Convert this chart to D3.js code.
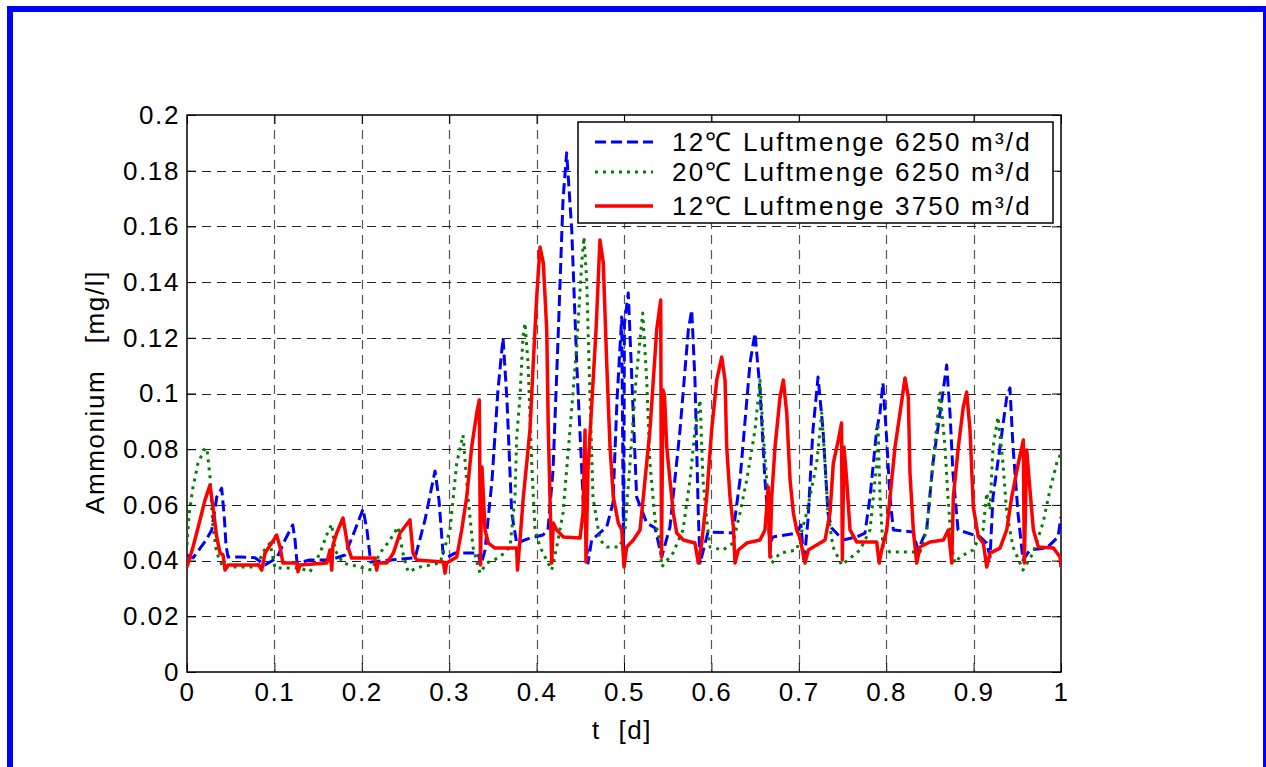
<!DOCTYPE html>
<html><head><meta charset="utf-8">
<script src="https://cdn.jsdelivr.net/npm/d3@7"></script>
<style>
html,body{margin:0;padding:0;background:#fff;}
svg text{font-family:"Liberation Sans",Arial,sans-serif;fill:#000;}
</style></head>
<body><svg id="c" width="1266" height="767"></svg>
<script>
const xTicks=[0,0.1,0.2,0.3,0.4,0.5,0.6,0.7,0.8,0.9,1];
const xTickLabels=["0","0.1","0.2","0.3","0.4","0.5","0.6","0.7","0.8","0.9","1"];
const yTicks=[0,0.02,0.04,0.06,0.08,0.1,0.12,0.14,0.16,0.18,0.2];
const yTickLabels=["0","0.02","0.04","0.06","0.08","0.1","0.12","0.14","0.16","0.18","0.2"];
const seriesNames=["12\u2103 Luftmenge 6250 m\u00b3/d","20\u2103 Luftmenge 6250 m\u00b3/d","12\u2103 Luftmenge 3750 m\u00b3/d"];
const xLabel="t  [d]";
const yLabel="Ammonium   [mg/l]";

// 12°C, 6250 m3/d  [t, NH4]
const blue=[[0,0.042],[0.007,0.041],[0.021,0.047],[0.0283,0.051],[0.034,0.0628],[0.0397,0.066],[0.0429,0.0546],[0.0446,0.0456],[0.0469,0.0413],[0.0606,0.0413],[0.0778,0.041],[0.0892,0.0384],[0.103,0.041],[0.1121,0.0474],[0.121,0.0528],[0.1236,0.0474],[0.1259,0.0391],[0.1407,0.0402],[0.1636,0.0402],[0.1808,0.042],[0.1922,0.051],[0.2014,0.0585],[0.2059,0.051],[0.2102,0.0395],[0.2323,0.0402],[0.2609,0.041],[0.2723,0.0546],[0.2838,0.0722],[0.2883,0.0618],[0.2929,0.0427],[0.2986,0.0413],[0.3066,0.0427],[0.333,0.0427],[0.3364,0.0384],[0.341,0.0438],[0.349,0.0689],[0.3558,0.1013],[0.3616,0.1199],[0.3661,0.0977],[0.3715,0.0571],[0.3772,0.0463],[0.3924,0.0481],[0.4073,0.0492],[0.413,0.051],[0.4188,0.0725],[0.4245,0.1192],[0.4302,0.1695],[0.4344,0.1864],[0.4402,0.1587],[0.4459,0.111],[0.4531,0.0628],[0.4588,0.0391],[0.463,0.0474],[0.4802,0.0521],[0.4874,0.0607],[0.492,0.0977],[0.4974,0.1275],[0.4995,0.0395],[0.5005,0.125],[0.5049,0.1361],[0.509,0.1048],[0.5145,0.0628],[0.526,0.0535],[0.5355,0.0517],[0.5431,0.0413],[0.5526,0.0521],[0.5641,0.0869],[0.5736,0.1228],[0.5775,0.13],[0.5812,0.1048],[0.585,0.0571],[0.587,0.0391],[0.5961,0.0503],[0.6247,0.0499],[0.6327,0.0689],[0.6442,0.111],[0.6499,0.1217],[0.6556,0.1013],[0.6613,0.0689],[0.667,0.0463],[0.6705,0.0485],[0.6976,0.0499],[0.7025,0.0528],[0.7059,0.0391],[0.7105,0.0546],[0.7162,0.0869],[0.722,0.1059],[0.7277,0.0869],[0.7334,0.0571],[0.7376,0.0517],[0.7506,0.0474],[0.7662,0.0485],[0.7757,0.0499],[0.7815,0.0628],[0.7891,0.0869],[0.7929,0.093],[0.7963,0.1038],[0.8006,0.0833],[0.8043,0.0628],[0.8082,0.051],[0.8307,0.0503],[0.8364,0.0438],[0.8463,0.051],[0.8535,0.075],[0.8616,0.093],[0.8692,0.1102],[0.873,0.093],[0.8764,0.0715],[0.8822,0.051],[0.9073,0.0485],[0.915,0.0463],[0.9188,0.0413],[0.9222,0.0628],[0.9302,0.0808],[0.9379,0.0987],[0.9416,0.102],[0.9451,0.0808],[0.9508,0.0571],[0.9565,0.0402],[0.9645,0.0438],[0.9836,0.0445],[0.9966,0.0485],[1.0,0.0557]];

// 20°C, 6250 m3/d
const green=[[0,0.0456],[0.0023,0.0564],[0.0069,0.0664],[0.0126,0.075],[0.0206,0.0804],[0.0229,0.0801],[0.0263,0.07],[0.0297,0.0521],[0.034,0.0427],[0.0412,0.0377],[0.0797,0.0377],[0.087,0.0431],[0.095,0.0463],[0.1007,0.0373],[0.1293,0.0373],[0.1407,0.036],[0.1522,0.0427],[0.1598,0.0492],[0.1656,0.0531],[0.1693,0.0438],[0.1785,0.0391],[0.1979,0.0377],[0.2113,0.0366],[0.2208,0.0427],[0.2323,0.0474],[0.2414,0.0521],[0.2471,0.0427],[0.2529,0.036],[0.2666,0.0377],[0.2895,0.0391],[0.3009,0.051],[0.3086,0.075],[0.3158,0.0851],[0.3215,0.0628],[0.3272,0.0449],[0.3352,0.0355],[0.3429,0.0391],[0.3581,0.0413],[0.3696,0.0449],[0.3753,0.0628],[0.3772,0.0844],[0.381,0.0987],[0.3844,0.1203],[0.3867,0.1253],[0.3902,0.111],[0.3944,0.075],[0.3982,0.051],[0.4039,0.0449],[0.4173,0.0366],[0.423,0.0449],[0.4302,0.0571],[0.4382,0.0869],[0.4459,0.1167],[0.4516,0.1469],[0.4542,0.1562],[0.4573,0.1408],[0.4611,0.0987],[0.4645,0.0628],[0.4725,0.0474],[0.4802,0.0449],[0.4954,0.0449],[0.5011,0.051],[0.5069,0.075],[0.5137,0.1048],[0.5214,0.1289],[0.526,0.1048],[0.5297,0.075],[0.5355,0.0546],[0.5412,0.0463],[0.5431,0.0377],[0.556,0.0427],[0.5675,0.051],[0.5755,0.0689],[0.5812,0.0869],[0.587,0.0977],[0.5904,0.0689],[0.5946,0.0546],[0.5984,0.0449],[0.6133,0.0438],[0.6247,0.0463],[0.6327,0.0571],[0.6404,0.0689],[0.6499,0.0869],[0.6556,0.1048],[0.659,0.0869],[0.6633,0.0689],[0.667,0.0449],[0.669,0.0391],[0.6785,0.0427],[0.6976,0.0438],[0.709,0.0571],[0.7205,0.075],[0.7262,0.093],[0.73,0.075],[0.7334,0.0571],[0.7391,0.0449],[0.7491,0.0384],[0.77,0.0438],[0.7815,0.051],[0.7891,0.075],[0.7906,0.0894],[0.7929,0.0628],[0.7963,0.0449],[0.8043,0.0431],[0.8387,0.0431],[0.8463,0.051],[0.8535,0.075],[0.8616,0.1002],[0.8673,0.0808],[0.8707,0.0628],[0.8749,0.0449],[0.8787,0.0391],[0.8844,0.0413],[0.8993,0.0438],[0.9108,0.051],[0.915,0.0643],[0.9188,0.0582],[0.9222,0.0808],[0.9279,0.0916],[0.9336,0.075],[0.9379,0.0571],[0.9451,0.0449],[0.9565,0.0366],[0.968,0.0427],[0.9794,0.0535],[0.9874,0.0654],[0.9951,0.075],[1.0,0.0786]];

// 12°C, 3750 m3/d
const red=[[0,0.0377],[0.0069,0.0449],[0.0149,0.0546],[0.0206,0.0618],[0.0263,0.0671],[0.0297,0.0592],[0.034,0.0485],[0.0378,0.0427],[0.0412,0.042],[0.0435,0.0366],[0.0469,0.0384],[0.0824,0.0384],[0.0855,0.0366],[0.0892,0.0427],[0.0969,0.0463],[0.1026,0.0492],[0.1064,0.0449],[0.1098,0.0391],[0.1255,0.0391],[0.127,0.036],[0.1293,0.0384],[0.1598,0.0391],[0.1636,0.0438],[0.1656,0.0366],[0.167,0.0456],[0.1713,0.0499],[0.1785,0.0553],[0.1842,0.0449],[0.1884,0.0409],[0.2151,0.0409],[0.217,0.0366],[0.2185,0.0391],[0.2285,0.0391],[0.2361,0.0427],[0.2437,0.0499],[0.2551,0.0546],[0.2586,0.0427],[0.2628,0.0402],[0.2933,0.0395],[0.2952,0.0355],[0.2971,0.0391],[0.3086,0.0413],[0.3143,0.051],[0.32,0.0628],[0.3257,0.0808],[0.3315,0.093],[0.3344,0.0977],[0.3358,0.0384],[0.3375,0.0736],[0.341,0.051],[0.3448,0.0463],[0.3524,0.0445],[0.3772,0.0445],[0.3781,0.0366],[0.381,0.0474],[0.3848,0.0628],[0.3887,0.075],[0.3924,0.0869],[0.3962,0.111],[0.4001,0.1346],[0.4039,0.1526],[0.4077,0.1469],[0.4116,0.1228],[0.4134,0.0869],[0.4153,0.0628],[0.4173,0.0391],[0.4191,0.0535],[0.423,0.051],[0.4306,0.0485],[0.4497,0.0481],[0.4531,0.0571],[0.4554,0.0869],[0.4565,0.0395],[0.4588,0.0725],[0.4634,0.0977],[0.468,0.1228],[0.4725,0.1551],[0.4763,0.1469],[0.4802,0.111],[0.484,0.0808],[0.4878,0.0628],[0.4935,0.0535],[0.4974,0.051],[0.5,0.0377],[0.5031,0.0449],[0.5107,0.0474],[0.5183,0.051],[0.5221,0.0628],[0.5297,0.0869],[0.5374,0.1228],[0.542,0.1336],[0.5429,0.0413],[0.5446,0.1013],[0.5463,0.0995],[0.5489,0.0808],[0.5526,0.0689],[0.5564,0.0571],[0.5603,0.0499],[0.5679,0.0474],[0.5812,0.0463],[0.585,0.0391],[0.5889,0.0463],[0.5946,0.0628],[0.6003,0.0869],[0.6061,0.1048],[0.6118,0.1131],[0.6156,0.1048],[0.6175,0.0808],[0.6213,0.0628],[0.6251,0.0521],[0.627,0.0391],[0.6308,0.0438],[0.6404,0.0463],[0.6556,0.0474],[0.6613,0.051],[0.6651,0.0664],[0.667,0.0413],[0.669,0.0628],[0.6728,0.0808],[0.6785,0.0987],[0.6823,0.1048],[0.6862,0.093],[0.69,0.0689],[0.6938,0.0571],[0.6976,0.051],[0.7014,0.0481],[0.7071,0.0391],[0.7109,0.0438],[0.7205,0.0456],[0.73,0.0474],[0.7357,0.0571],[0.7395,0.075],[0.7452,0.0833],[0.7489,0.0894],[0.7498,0.0402],[0.7517,0.0808],[0.7548,0.0689],[0.7586,0.051],[0.7662,0.0467],[0.7891,0.0467],[0.792,0.0391],[0.7948,0.0438],[0.8006,0.051],[0.8063,0.0689],[0.8101,0.0808],[0.8158,0.093],[0.8215,0.1056],[0.8253,0.0987],[0.8272,0.0715],[0.831,0.051],[0.8349,0.0391],[0.8387,0.0449],[0.8501,0.0467],[0.8654,0.0474],[0.8711,0.051],[0.875,0.0391],[0.8768,0.0628],[0.8825,0.0808],[0.8882,0.0952],[0.8921,0.1005],[0.8959,0.0869],[0.8997,0.0592],[0.9054,0.0485],[0.9111,0.0463],[0.915,0.0377],[0.9188,0.0427],[0.9302,0.0445],[0.9379,0.051],[0.9436,0.0628],[0.9512,0.075],[0.9569,0.0833],[0.958,0.0391],[0.9608,0.0797],[0.9645,0.0654],[0.9684,0.051],[0.9741,0.0449],[0.9912,0.0445],[0.9989,0.0413],[1.0,0.0377]];

const svg=d3.select("#c");
const W=1266,H=767;
const L=187,R=1061,T=115,B=672;
const FS="26px", LS="1.6px", LSL="2.2px";
const x=d3.scaleLinear().domain([0,1]).range([L,R]);
const y=d3.scaleLinear().domain([0,0.2]).range([B,T]);

svg.append("rect").attr("width",W).attr("height",H).attr("fill","#fff");
// blue frame
svg.append("rect").attr("x",7).attr("y",6).attr("width",1259).attr("height",6).attr("fill","#0000ff");
svg.append("rect").attr("x",7).attr("y",6).attr("width",6).attr("height",761).attr("fill","#0000ff");
svg.append("rect").attr("x",1263).attr("y",6).attr("width",3).attr("height",761).attr("fill","#0000ff");

// grid
const g=svg.append("g");
g.selectAll("line.gx").data(xTicks.slice(1,-1)).enter().append("line")
 .attr("x1",d=>Math.round(x(d))+0.5).attr("x2",d=>Math.round(x(d))+0.5).attr("y1",T).attr("y2",B)
 .attr("stroke","#555").attr("stroke-width",1.2).attr("stroke-dasharray","9,6");
g.selectAll("line.gy").data(yTicks.slice(1,-1)).enter().append("line")
 .attr("y1",d=>Math.round(y(d))+0.5).attr("y2",d=>Math.round(y(d))+0.5).attr("x1",L).attr("x2",R)
 .attr("stroke","#222").attr("stroke-width",1).attr("stroke-dasharray","9,6");

// axes via d3 axis (ticks inside)
const fmtX=(d,i)=>xTickLabels[i];
const fmtY=(d,i)=>yTickLabels[i];
const axB=svg.append("g").attr("transform",`translate(0,${B})`)
 .call(d3.axisBottom(x).tickValues(xTicks).tickFormat(fmtX).tickSizeInner(-9).tickSizeOuter(0).tickPadding(11));
const axL=svg.append("g").attr("transform",`translate(${L},0)`)
 .call(d3.axisLeft(y).tickValues(yTicks).tickFormat(fmtY).tickSizeInner(-9).tickSizeOuter(0).tickPadding(7));
const axT=svg.append("g").attr("transform",`translate(0,${T})`)
 .call(d3.axisTop(x).tickValues(xTicks).tickFormat("").tickSizeInner(-9).tickSizeOuter(0));
const axR=svg.append("g").attr("transform",`translate(${R},0)`)
 .call(d3.axisRight(y).tickValues(yTicks).tickFormat("").tickSizeInner(-9).tickSizeOuter(0));
[axB,axL,axT,axR].forEach(a=>{a.select(".domain").remove();a.selectAll("line").attr("stroke","#000");
 a.selectAll("text").style("font-size",FS).style("letter-spacing",LS).style("font-family","'Liberation Sans',Arial,sans-serif").attr("fill","#000");});
axB.selectAll("text").attr("dy","0.68em");
svg.append("rect").attr("x",L).attr("y",T).attr("width",R-L).attr("height",B-T)
 .attr("fill","none").attr("stroke","#000").attr("stroke-width",1.5);

// lines
svg.append("clipPath").attr("id","clip").append("rect").attr("x",L).attr("y",T-2).attr("width",R-L).attr("height",B-T+4);
const line=d3.line().x(d=>x(d[0])).y(d=>y(d[1]));
const styles=[{c:"#0000ff",w:3,da:"11,5"},{c:"#008000",w:3,da:"3,5"},{c:"#ff0000",w:3.5,da:null}];
const data=[blue,green,red];
const lg=svg.append("g").attr("clip-path","url(#clip)");
data.forEach((s,i)=>{
 const p=lg.append("path").datum(s).attr("d",line).attr("fill","none")
  .attr("stroke",styles[i].c).attr("stroke-width",styles[i].w).attr("stroke-linejoin","round");
 if(styles[i].da)p.attr("stroke-dasharray",styles[i].da);
});

// legend
const lgX=578,lgY=122,lgW=475,lgH=101;
svg.append("rect").attr("x",lgX).attr("y",lgY).attr("width",lgW).attr("height",lgH)
 .attr("fill","#fff").attr("stroke","#000").attr("stroke-width",1.5);
const rows=[142,172,206];
seriesNames.forEach((n,i)=>{
 const ln=svg.append("line").attr("x1",595).attr("x2",653).attr("y1",rows[i]).attr("y2",rows[i])
  .attr("stroke",styles[i].c).attr("stroke-width",styles[i].w);
 if(styles[i].da)ln.attr("stroke-dasharray",styles[i].da);
 svg.append("text").attr("x",672).attr("y",rows[i]).attr("dy","0.36em").style("font-size",FS).style("letter-spacing",LSL).text(n);
});

// axis labels
svg.append("text").attr("x",622).attr("y",730).attr("text-anchor","middle").attr("dy","0.36em")
 .style("font-size",FS).style("letter-spacing",LS).style("white-space","pre").text(xLabel);
svg.append("text").attr("transform","translate(95,392) rotate(-90)").attr("text-anchor","middle").attr("dy","0.36em")
 .style("font-size",FS).style("letter-spacing",LS).style("white-space","pre").text(yLabel);
</script></body></html>
